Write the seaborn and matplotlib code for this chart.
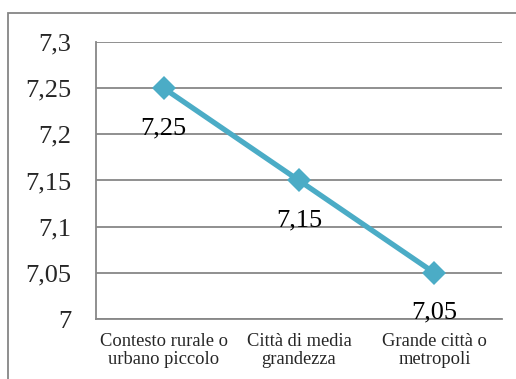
import matplotlib
matplotlib.use("Agg")
import matplotlib.pyplot as plt
from matplotlib.patches import Rectangle
import seaborn as sns
import pandas as pd

categories = ["Contesto rurale o\nurbano piccolo", "Città di media\ngrandezza", "Grande città o\nmetropoli"]
values = [7.25, 7.15, 7.05]
y_ticks = [7.0, 7.05, 7.1, 7.15, 7.2, 7.25, 7.3]
y_tick_labels = ["7", "7,05", "7,1", "7,15", "7,2", "7,25", "7,3"]
value_labels = ["7,25", "7,15", "7,05"]

sns.set_style("white")
plt.rcParams["font.family"] = ["Liberation Serif", "DejaVu Serif"]

W, H = 516, 379
fig = plt.figure(figsize=(W / 100, H / 100), dpi=100)
ax = fig.add_axes([96 / W, 1 - 319 / H, (502 - 96) / W, (319 - 42) / H])

df = pd.DataFrame({"pos": range(len(categories)), "val": values})
sns.lineplot(data=df, x="pos", y="val", ax=ax, color="#4BACC6", linewidth=3.8,
             marker="D", markersize=12, markeredgewidth=0, zorder=3)

grid_col = "#878787"
ax.set_xlim(-0.5, len(categories) - 0.5)
ax.set_ylim(7.0, 7.3)
ax.set_yticks(y_ticks)
ax.set_yticklabels(y_tick_labels, fontsize=19)
ax.yaxis.grid(True, color=grid_col, linewidth=1.3)
ax.set_axisbelow(True)

ax.set_xticks(range(len(categories)))
ax.set_xticklabels(categories, fontsize=13.3, linespacing=1.05)
ax.set_xticks([i - 0.5 for i in range(len(categories) + 1)], minor=True)
ax.tick_params(axis="x", which="major", length=0, pad=10)
ax.tick_params(axis="x", which="minor", length=6, color=grid_col, width=1.3, direction="out")
ax.tick_params(axis="y", length=7, color=grid_col, width=1.3, direction="out", pad=11)
ax.set_xlabel("")
ax.set_ylabel("")

for s in ["top", "right"]:
    ax.spines[s].set_visible(False)
for s in ["left", "bottom"]:
    ax.spines[s].set_color(grid_col)
    ax.spines[s].set_linewidth(1.3)

# value labels under each point
for i, (v, lab) in enumerate(zip(values, value_labels)):
    ax.annotate(lab, (i, v), xytext=(0, -40), textcoords="offset pixels",
                ha="center", va="center", fontsize=19, color="#000000")

# outer chart frame
fig.patches.append(Rectangle((8 / W, -0.05), 1.1, 1 - 13 / H + 0.05, transform=fig.transFigure,
                             fill=False, edgecolor="#868686", linewidth=1.3))

fig.savefig("out.png", dpi=100)
